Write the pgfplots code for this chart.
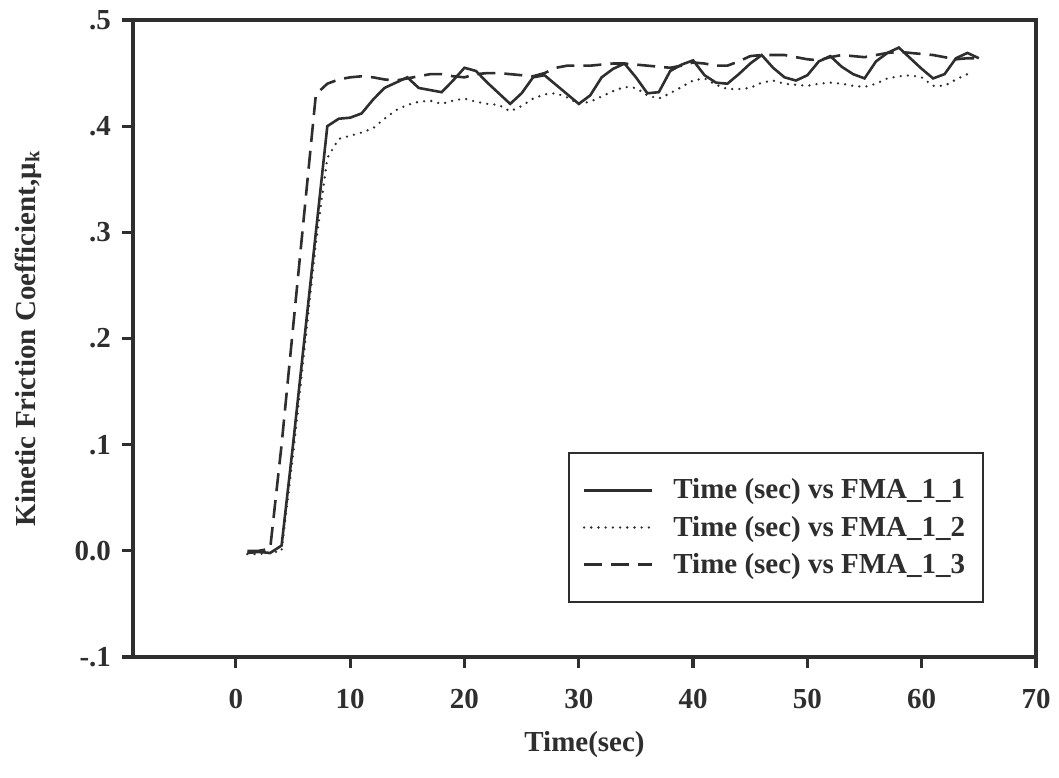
\documentclass[border=0pt]{standalone}
\usepackage{fontspec}
\setmainfont{Liberation Serif}
\usepackage{pgfplots}
\pgfplotsset{compat=1.18}
\definecolor{ink}{HTML}{2E2E2E}
\begin{document}
\begin{tikzpicture}
\useasboundingbox (-66.5pt,-60pt) rectangle (463pt,328.5pt);
\begin{axis}[
  at={(0,0)}, anchor=south west,
  scale only axis, width=451.5pt, height=318.5pt,
  xmin=-9, xmax=70, ymin=-0.1, ymax=0.5,
  xtick={0,10,20,30,40,50,60,70},
  ytick={-0.1,0,0.1,0.2,0.3,0.4,0.5},
  yticklabels={-.1,0.0,.1,.2,.3,.4,.5},
  tick pos=left, tick align=outside,
  major tick length=5.5pt,
  every tick/.style={ink, line width=1.6pt},
  axis line style={ink, line width=2pt},
  /pgf/number format/assume math mode=true,
  ticklabel style={font=\fontsize{14.5}{17}\selectfont\bfseries, text=ink},
  xticklabel style={yshift=-7pt},
  yticklabel style={xshift=-2pt},
  xlabel={Time(sec)},
  ylabel={Kinetic Friction Coefficient,μ\textsubscript{k}},
  every axis x label/.style={at={(axis description cs:0.5,0)}, yshift=-44pt, anchor=center,
     font=\fontsize{14.5}{17}\selectfont\bfseries, text=ink},
  every axis y label/.style={at={(axis description cs:0,0.5)}, xshift=-52.5pt, rotate=90, anchor=center,
     font=\fontsize{14.5}{17}\selectfont\bfseries, text=ink},
  legend style={at={(rel axis cs:0.4817,0.0848)}, anchor=south west,
    draw=ink, line width=0.8pt, inner xsep=7pt, inner ysep=11pt,
    font=\fontsize{14.5}{17}\selectfont\bfseries, text=ink,
    row sep=3pt},
  legend cell align=left,
  legend image code/.code={\draw[#1] (0pt,0pt) -- (34pt,0pt); \path (42pt,0pt);},
  clip=false,
]
\addplot[ink, line width=1.3pt] table {
t y
1 -0.002
2 -0.001
3 -0.002
4 0.005
5 0.10
6 0.20
7 0.30
8 0.400
9 0.407
10 0.408
11 0.412
12 0.425
13 0.436
14 0.441
15 0.446
16 0.436
17 0.434
18 0.432
19 0.443
20 0.455
21 0.452
22 0.441
23 0.431
24 0.421
25 0.431
26 0.446
27 0.448
28 0.439
29 0.430
30 0.421
31 0.429
32 0.446
33 0.454
34 0.459
35 0.446
36 0.431
37 0.432
38 0.452
39 0.458
40 0.462
41 0.448
42 0.441
43 0.440
44 0.449
45 0.459
46 0.467
47 0.455
48 0.446
49 0.443
50 0.448
51 0.461
52 0.466
53 0.456
54 0.449
55 0.445
56 0.461
57 0.469
58 0.474
59 0.464
60 0.454
61 0.445
62 0.449
63 0.464
64 0.469
65 0.464
};
\addlegendentry{Time (sec) vs FMA\_1\_1}
\addplot[ink, line width=1.3pt, line cap=round, dash pattern=on 0pt off 3.6pt] table {
t y
1 -0.003
2 -0.003
3 -0.002
4 0.000
5 0.09
6 0.19
7 0.29
8 0.370
9 0.388
10 0.391
11 0.394
12 0.398
13 0.407
14 0.415
15 0.420
16 0.423
17 0.424
18 0.421
19 0.424
20 0.426
21 0.423
22 0.421
23 0.420
24 0.414
25 0.419
26 0.426
27 0.430
28 0.431
29 0.427
30 0.421
31 0.423
32 0.428
33 0.433
34 0.437
35 0.436
36 0.429
37 0.426
38 0.431
39 0.437
40 0.443
41 0.445
42 0.439
43 0.435
44 0.435
45 0.436
46 0.441
47 0.443
48 0.440
49 0.439
50 0.438
51 0.440
52 0.441
53 0.440
54 0.438
55 0.437
56 0.440
57 0.445
58 0.447
59 0.448
60 0.446
61 0.438
62 0.438
63 0.444
64 0.449
};
\addlegendentry{Time (sec) vs FMA\_1\_2}
\addplot[ink, line width=1.3pt, dash pattern=on 9pt off 4.5pt] table {
t y
1 0.000
2 0.000
3 0.002
4 0.10
5 0.21
6 0.32
7 0.430
8 0.440
9 0.444
10 0.446
11 0.447
12 0.446
13 0.444
14 0.443
15 0.445
16 0.447
17 0.449
18 0.449
19 0.447
20 0.446
21 0.449
22 0.450
23 0.450
24 0.449
25 0.448
26 0.447
27 0.450
28 0.455
29 0.457
30 0.457
31 0.457
32 0.458
33 0.459
34 0.459
35 0.458
36 0.457
37 0.456
38 0.455
39 0.457
40 0.460
41 0.459
42 0.457
43 0.457
44 0.461
45 0.466
46 0.467
47 0.467
48 0.467
49 0.465
50 0.463
51 0.462
52 0.465
53 0.467
54 0.466
55 0.465
56 0.467
57 0.469
58 0.470
59 0.469
60 0.468
61 0.467
62 0.465
63 0.463
64 0.464
65 0.464
};
\addlegendentry{Time (sec) vs FMA\_1\_3}
\end{axis}
\end{tikzpicture}
\end{document}
